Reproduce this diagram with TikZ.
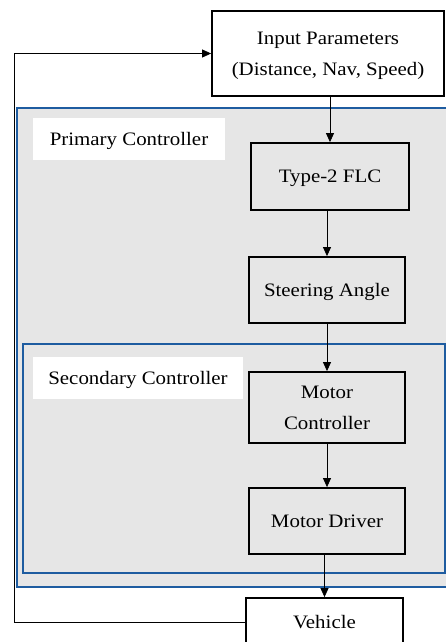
\documentclass[tikz,border=0pt]{standalone}
\usepackage{fontspec}
\setmainfont{Liberation Serif}[FakeStretch=1.1]
\usetikzlibrary{arrows.meta}
\definecolor{ctrlblue}{RGB}{30,92,160}
\definecolor{ctrlgray}{RGB}{230,230,230}
\tikzset{
  block/.style={draw=black, line width=1.8pt, fill=white, align=center,
    inner sep=0pt, text depth=0pt, font=\fontsize{19}{31}\selectfont},
  grayblock/.style={block, fill=ctrlgray},
  group/.style={draw=ctrlblue, line width=1.6pt, fill=ctrlgray},
  tag/.style={fill=white, inner sep=0pt, text depth=0pt, font=\fontsize{19}{20}\selectfont},
  flow/.style={line width=0.8pt, -{Triangle[length=9pt,width=8pt]}}
}
\begin{document}
\begin{tikzpicture}[x=1pt,y=-1pt]
\useasboundingbox (0,0) rectangle (446,642);
% controller groups
\draw[group] (17,108) rectangle (470,587);
\draw[group] (23,344) rectangle (445,573);
\node[tag, minimum width=192pt, minimum height=42pt] (ptag) at (129,139) {Primary Controller};
\node[tag, minimum width=210pt, minimum height=42pt] (stag) at (138,378) {Secondary Controller};
% blocks
\node[block, minimum width=232pt, minimum height=85pt] (input) at (328,53.5)
  {Input Parameters\\(Distance, Nav, Speed)};
\node[grayblock, minimum width=158pt, minimum height=67pt] (flc) at (330,176.5) {Type-2 FLC};
\node[grayblock, minimum width=156pt, minimum height=66pt] (steer) at (327,290) {Steering Angle};
\node[grayblock, minimum width=156pt, minimum height=71pt] (mctrl) at (327,407.5) {Motor\\Controller};
\node[grayblock, minimum width=156pt, minimum height=66pt] (mdrv) at (327,521) {Motor Driver};
\node[block, minimum width=157pt, minimum height=48pt] (vehicle) at (324.5,622) {Vehicle};
% signal flow
\draw[flow] (input.south -| flc.north) -- (flc.north);
\draw[flow] (flc.south -| steer.north) -- (steer.north);
\draw[flow] (steer.south -| mctrl.north) -- (mctrl.north);
\draw[flow] (mctrl.south -| mdrv.north) -- (mdrv.north);
\draw[flow] (mdrv.south -| vehicle.north) -- (vehicle.north);
% feedback loop
\coordinate (fb) at (14,0);
\draw[flow] (vehicle.west) -- (vehicle.west -| fb) -- (input.west -| fb) -- (input.west);
\end{tikzpicture}
\end{document}
